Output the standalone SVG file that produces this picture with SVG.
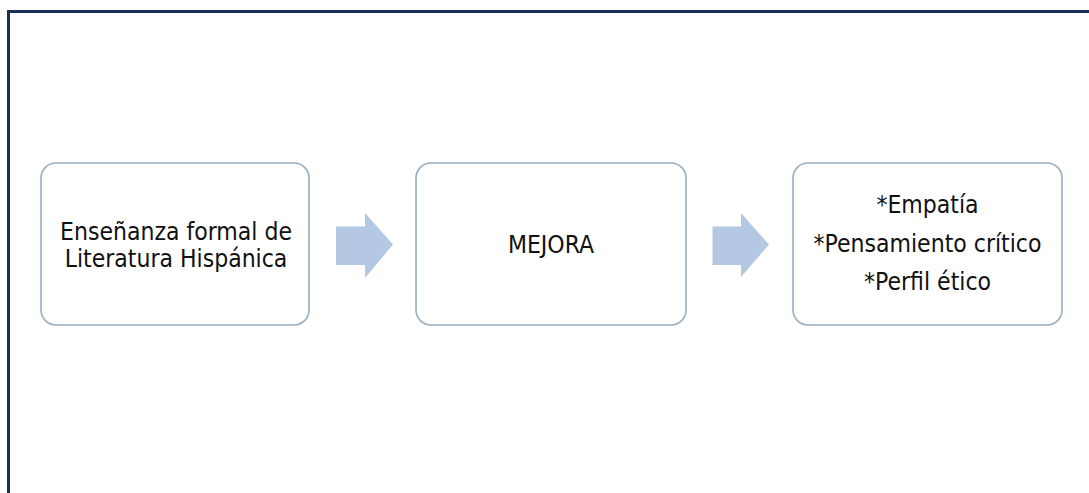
<svg xmlns="http://www.w3.org/2000/svg" width="1089" height="493" viewBox="0 0 1089 493">
<style>
.box{fill:#ffffff;stroke:#97aec4;stroke-width:1.6}
.arrow{fill:#b4c8e4}
.t{font-family:"DejaVu Sans Condensed","DejaVu Sans",sans-serif;font-size:24.5px;fill:#111111;text-anchor:middle}
</style>
<rect x="0" y="0" width="1089" height="493" fill="#ffffff"/>
<path d="M8.5 498 V11.5 H1095" fill="none" stroke="#1c2f5a" stroke-width="3"/>
<g id="connectors">
<polygon class="arrow" points="336,226.5 365,226.5 365,213 393,244.5 365,278 365,265 336,265"/>
<polygon class="arrow" points="712.5,226.5 741,226.5 741,213 769,244.5 741,277 741,265 712.5,265"/>
</g>
<g id="node1">
<rect class="box" x="41" y="163" width="268" height="162" rx="15"/>
<text class="t" x="176" y="240">Enseñanza formal de</text>
<text class="t" x="176" y="267">Literatura Hispánica</text>
</g>
<g id="node2">
<rect class="box" x="416" y="163" width="270" height="162" rx="15"/>
<text class="t" x="551" y="253">MEJORA</text>
</g>
<g id="node3">
<rect class="box" x="793" y="163" width="269" height="162" rx="15"/>
<text class="t" x="927.5" y="213">*Empatía</text>
<text class="t" x="927.5" y="252">*Pensamiento crítico</text>
<text class="t" x="927.5" y="290">*Perfil ético</text>
</g>
</svg>
